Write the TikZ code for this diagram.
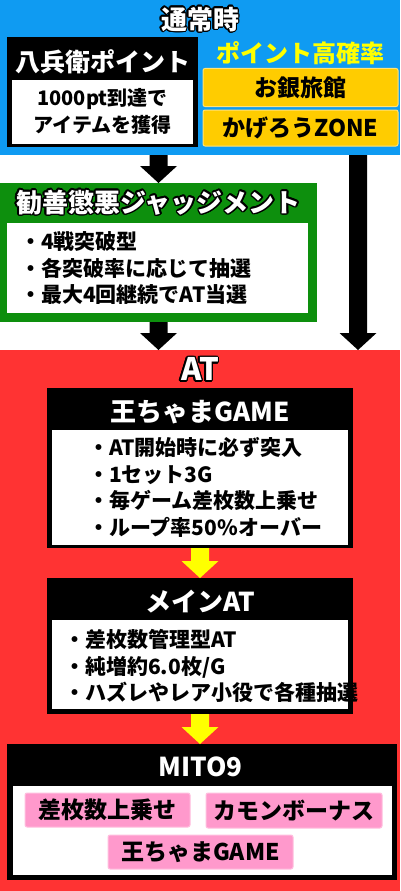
\documentclass[tikz,border=0pt]{standalone}
\usepackage{fontspec}
\setmainfont{Noto Sans CJK JP}
\usepackage{contour}
\contourlength{1.4pt}
\usetikzlibrary{calc}
\newcommand\blockarr[4]{\fill[#1] let \p1 = (#3), \p2 = (#4) in (\x1 - #2, \y1) -- (\x1 - #2, \y2 + 17pt) -- (\x1 - 18.5pt, \y2 + 17pt) -- (\x1, \y2) -- (\x1 + 18.5pt, \y2 + 17pt) -- (\x1 + #2, \y2 + 17pt) -- (\x1 + #2, \y1) -- cycle;}
\begin{document}
\begin{tikzpicture}[x=1pt, y=-1pt,
  panel/.style={rectangle, inner sep=0pt, outer sep=0pt},
  headtext/.style={text=white, inner sep=0pt, font=\fontsize{26}{28}\selectfont\bfseries},
  bodytext/.style={inner sep=0pt, font=\fontsize{21}{26.5}\selectfont\bfseries},
  listtext/.style={bodytext, align=left, anchor=west},
  tagbox/.style={panel, rounded corners=2pt, line width=1pt, font=\fontsize{23}{25}\selectfont\bfseries}]
\definecolor{normalblue}{HTML}{0F9BF2}
\definecolor{judgegreen}{HTML}{0D8F0D}
\definecolor{atred}{HTML}{FF3333}
\definecolor{tagyellow}{HTML}{FFCC00}
\definecolor{tagyellowline}{HTML}{FFE27A}
\definecolor{tagpink}{HTML}{FF99CC}
\definecolor{tagpinkline}{HTML}{FFBFDF}
\definecolor{arrowyellow}{HTML}{FFFF00}
\fill[white] (0,0) rectangle (400,891);
\useasboundingbox (0,0) rectangle (400,891);
\node[panel, fill=normalblue, minimum width=400pt, minimum height=155pt] (normal) at (200,77.5) {};
\node[headtext, font=\fontsize{26}{28}\selectfont\bfseries] (normaltitle) at (200,20) {\contour{black}{通常時}};
\node[panel, fill=black, minimum width=191pt, minimum height=110pt] (hachi) at (102.5,92) {};
\node[headtext, font=\fontsize{25}{27}\selectfont\bfseries] (hachititle) at (102.5,62) {八兵衛ポイント};
\node[panel, fill=white, minimum width=181pt, minimum height=64pt] (hachibody) at (102.5,112) {};
\node[bodytext, align=center, font=\fontsize{20}{27}\selectfont\bfseries] (hachitext) at (102.5,111.5) {1000pt到達で\\アイテムを獲得};
\node[inner sep=0pt, text={arrowyellow}, font=\fontsize{24}{26}\selectfont\bfseries] (hightitle) at (300,53) {ポイント高確率};
\node[tagbox, fill=tagyellow, draw=tagyellowline, minimum width=195pt, minimum height=38pt] (ogin) at (300.5,87.5) {お銀旅館};
\node[tagbox, fill=tagyellow, draw=tagyellowline, minimum width=195pt, minimum height=36pt] (kagero) at (300.5,128) {かげろうZONE};
\coordinate (rightdrop) at (358,155);
\node[panel, fill=judgegreen, minimum width=317pt, minimum height=139pt] (judge) at (158.5,252.5) {};
\node[headtext] (judgetitle) at (158.5,203) {\contour{black}{勧善懲悪ジャッジメント}};
\node[panel, fill=white, minimum width=301pt, minimum height=90pt] (judgebody) at (157.5,268) {};
\node[listtext] (judgelist) at (20,268.5) {・4戦突破型\\・各突破率に応じて抽選\\・最大4回継続でAT当選};
\node[panel, fill=atred, minimum width=400pt, minimum height=541pt] (at) at (200,620.5) {};
\node[headtext, font=\fontsize{31}{33}\selectfont\bfseries] (attitle) at (200,370) {\contour{black}{AT}};
\node[panel, fill=black, minimum width=306pt, minimum height=160pt] (king) at (200,468) {};
\node[headtext] (kingtitle) at (200,412) {王ちゃまGAME};
\node[panel, fill=white, minimum width=296pt, minimum height=115pt] (kingbody) at (200,487.5) {};
\node[listtext] (kinglist) at (88,487.5) {・AT開始時に必ず突入\\・1セット3G\\・毎ゲーム差枚数上乗せ\\・ループ率50\%オーバー};
\node[panel, fill=black, minimum width=306pt, minimum height=136pt] (main) at (200,646) {};
\node[headtext] (maintitle) at (200,602) {メインAT};
\node[panel, fill=white, minimum width=296pt, minimum height=89pt] (mainbody) at (200,664.5) {};
\node[listtext] (mainlist) at (64,666) {・差枚数管理型AT\\・純増約6.0枚/G\\・ハズレやレア小役で各種抽選};
\node[panel, fill=black, minimum width=390pt, minimum height=136pt] (mito) at (202,812) {};
\node[headtext] (mitotitle) at (200.5,767) {MITO9};
\node[panel, fill=white, minimum width=379pt, minimum height=89pt] (mitobody) at (202.5,830.5) {};
\node[tagbox, fill=tagpink, draw=tagpinkline, minimum width=165pt, minimum height=34pt] (plus) at (107.5,810) {差枚数上乗せ};
\node[tagbox, fill=tagpink, draw=tagpinkline, minimum width=176pt, minimum height=35pt] (comeon) at (294,810.5) {カモンボーナス};
\node[tagbox, fill=tagpink, draw=tagpinkline, minimum width=185pt, minimum height=34pt] (kinggame) at (200.5,852) {王ちゃまGAME};
\blockarr{black}{9pt}{judge.north |- normal.south}{judge.north}
\blockarr{black}{9pt}{judge.south}{judge.south |- at.north}
\blockarr{black}{9pt}{rightdrop}{rightdrop |- at.north}
\blockarr{arrowyellow}{9pt}{king.south}{main.north}
\blockarr{arrowyellow}{9pt}{main.south}{main.south |- mito.north}
\end{tikzpicture}
\end{document}
